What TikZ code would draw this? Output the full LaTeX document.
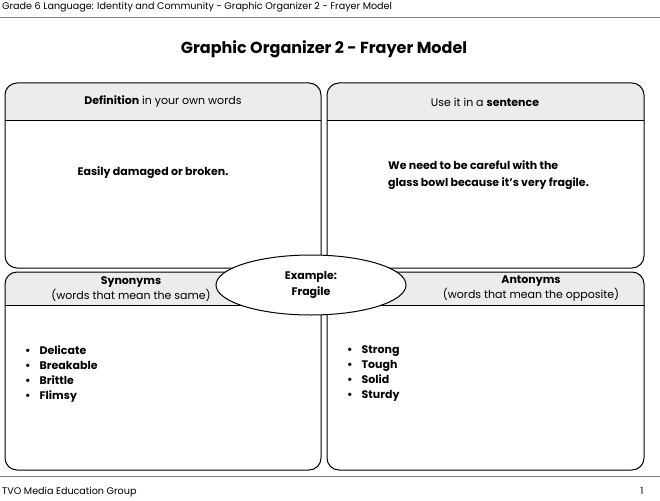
\documentclass[tikz,border=0pt]{standalone}
\usepackage{fontspec}
\setmainfont{Poppins}
\usetikzlibrary{shapes.geometric}
\begin{document}
\begin{tikzpicture}[x=1pt,y=-1pt,
  box/.style={draw=black,line width=1pt,rounded corners=12pt},
  hd/.style={font=\fontsize{11}{15}\selectfont,align=center,inner sep=0},
  bd/.style={font=\bfseries\fontsize{11}{17}\selectfont,align=left,inner sep=0}]
\useasboundingbox (0,0) rectangle (660,500);
\node[anchor=west,font=\fontsize{9.6}{11}\selectfont,inner sep=0] (hdr) at (2,7) {Grade 6 Language: Identity and Community - Graphic Organizer 2 - Frayer Model};
\draw[gray,line width=0.6pt] (0,17) -- (660,17);
\node[font=\bfseries\fontsize{16}{18}\selectfont] (title) at (324,49) {Graphic Organizer 2 - Frayer Model};
\foreach \n/\xa/\xb/\ya/\yb/\yh in {tl/5/321/83/268/120, tr/327/644/83/268/120, bl/5/321/272/470/305, br/327/644/272/470/305}{
  \begin{scope}
  \clip[rounded corners=12pt] (\xa,\ya) rectangle (\xb,\yb);
  \fill[gray!15] (\xa,\ya) rectangle (\xb,\yh);
  \end{scope}
  \draw[line width=1pt] (\xa,\yh) -- (\xb,\yh);
  \draw[box] (\xa,\ya) rectangle (\xb,\yb);
}
\node[hd] (h1) at (163,102) {\textbf{Definition} in your own words};
\node[hd] (h2) at (485,102) {Use it in a \textbf{sentence}};
\node[hd] (h3) at (131,289) {\textbf{Synonyms}\\(words that mean the same)};
\node[hd] (h4) at (531,289) {\textbf{Antonyms}\\(words that mean the opposite)};
\node[bd] (t1) at (153,173) {Easily damaged or broken.};
\node[bd,anchor=west] (t2) at (388,175) {We need to be careful with the\\glass bowl because it’s very fragile.};
\node[bd,anchor=north west,font=\bfseries\fontsize{11}{15}\selectfont] (l1) at (25,345) {\textbullet\hspace{9pt}Delicate\\\textbullet\hspace{9pt}Breakable\\\textbullet\hspace{9pt}Brittle\\\textbullet\hspace{9pt}Flimsy};
\node[bd,anchor=north west,font=\bfseries\fontsize{11}{15}\selectfont] (l2) at (347,345) {\textbullet\hspace{9pt}Strong\\\textbullet\hspace{9pt}Tough\\\textbullet\hspace{9pt}Solid\\\textbullet\hspace{9pt}Sturdy};
\node[ellipse,draw,line width=1pt,fill=white,minimum width=190pt,minimum height=60pt,align=center,font=\bfseries\fontsize{11}{16}\selectfont] (ex) at (311,285) {Example:\\Fragile};
\draw[gray,line width=0.6pt] (0,476) -- (660,476);
\node[anchor=west,font=\fontsize{9.6}{11}\selectfont,inner sep=0] (ft) at (2,492) {TVO Media Education Group};
\node[font=\fontsize{9.6}{11}\selectfont,inner sep=0] (pg) at (642,491) {1};
\end{tikzpicture}
\end{document}
